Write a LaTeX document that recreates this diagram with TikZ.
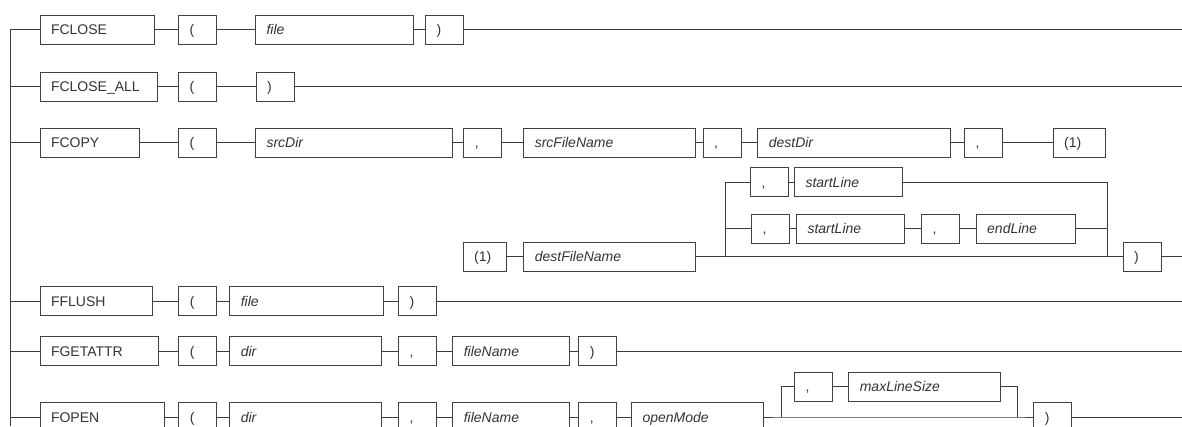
\documentclass[tikz,border=0pt]{standalone}
\usepackage{fontspec}
\setmainfont{Liberation Sans}
\usepackage{xcolor}
\usepackage{tikz}
\usetikzlibrary{positioning, calc}

\definecolor{linec}{HTML}{3C3C3C}
\definecolor{boxc}{HTML}{404040}
\definecolor{txtc}{HTML}{333333}

\begin{document}
\begin{tikzpicture}[
    x=1pt, y=-1pt,
    font=\fontsize{14}{16}\selectfont,
    line width=1pt,
    tok/.style={draw=boxc, anchor=west, minimum height=29pt,
        inner xsep=11pt, inner ysep=0pt, text width=#1, align=left,
        text height=10pt, text depth=0pt, text=txtc},
    arg/.style={tok=#1, font=\fontsize{14}{16}\selectfont\itshape},
    link/.style={draw=linec},
]
\useasboundingbox (0,0) rectangle (1182,426);

%% FCLOSE
\node[tok=92]  (fclose)  at (39.5,29.5) {FCLOSE};
\node[tok=16]  (fcloseL) at (178,29.5)  {(};
\node[arg=136] (fcloseF) at (255,29.5)  {file};
\node[tok=16]  (fcloseR) at (425,29.5)  {)};
\coordinate (fcloseE) at (1182,29.5);
\draw[link] (fclose) -- (fcloseL) -- (fcloseF) -- (fcloseR) -- (fcloseE);

%% FCLOSE_ALL
\node[tok=95] (fcall)  at (39.5,86.7)  {FCLOSE\_ALL};
\node[tok=16] (fcallL) at (178,86.7)   {(};
\node[tok=16] (fcallR) at (255.7,86.7) {)};
\coordinate (fcallE) at (1182,86.7);
\draw[link] (fcall) -- (fcallL) -- (fcallR) -- (fcallE);

%% FCOPY, first line
\node[tok=77]  (fcopy)   at (39.5,142.5)  {FCOPY};
\node[tok=16]  (cpyL)    at (178,142.5)   {(};
\node[arg=175] (cpySd)   at (255,142.5)   {srcDir};
\node[tok=16]  (cpyC1)   at (463.3,142.5) {,};
\node[arg=150] (cpySf)   at (523.3,142.5) {srcFileName};
\node[tok=16]  (cpyC2)   at (702.7,142.5) {,};
\node[arg=171] (cpyDd)   at (757.3,142.5) {destDir};
\node[tok=16]  (cpyC3)   at (964,142.5)   {,};
\node[tok=30]  (cpyRef)  at (1052.7,142.5) {(1)};
\draw[link] (fcopy) -- (cpyL) -- (cpySd) -- (cpyC1) -- (cpySf) -- (cpyC2)
    -- (cpyDd) -- (cpyC3) -- (cpyRef);

%% FCOPY, continued
\node[tok=21]  (cpyOne)  at (462.7,256.5) {(1)};
\node[arg=150] (cpyDf)   at (523.3,256.5) {destFileName};
\coordinate (cpySplit) at (725,256.5);
\coordinate (cpyJoin)  at (1107.7,256.5);
\node[tok=16]  (cpyAc)   at (750,182)     {,};
\node[arg=86]  (cpyAs)   at (794,182)     {startLine};
\node[tok=16]  (cpyBc)   at (751,228.8)   {,};
\node[arg=86]  (cpyBs)   at (796,228.8)   {startLine};
\node[tok=16]  (cpyBc2)  at (921,228.8)   {,};
\node[arg=77]  (cpyBe)   at (975.7,228.8) {endLine};
\node[tok=16]  (cpyR)    at (1122.7,256.5) {)};
\coordinate (cpyE) at (1182,256.5);
\draw[link] (cpyOne) -- (cpyDf) -- (cpySplit) -- (cpyJoin) -- (cpyR) -- (cpyE);
\draw[link] (cpySplit) |- (cpyAc);
\draw[link] (cpyAc) -- (cpyAs) -| (cpyJoin);
\draw[link] (cpySplit) |- (cpyBc);
\draw[link] (cpyBc) -- (cpyBs) -- (cpyBc2) -- (cpyBe) -| (cpyJoin);

%% FFLUSH
\node[tok=90]  (fflush)  at (39.5,301)  {FFLUSH};
\node[tok=16]  (flsL)    at (178.3,301) {(};
\node[arg=132] (flsF)    at (229.3,301) {file};
\node[tok=16]  (flsR)    at (398,301)   {)};
\coordinate (flsE) at (1182,301);
\draw[link] (fflush) -- (flsL) -- (flsF) -- (flsR) -- (flsE);

%% FGETATTR
\node[tok=96]  (fgetattr) at (39.5,351)  {FGETATTR};
\node[tok=16]  (gatL)     at (178.3,351) {(};
\node[arg=130] (gatD)     at (229.3,351) {dir};
\node[tok=16]  (gatC)     at (398,351)   {,};
\node[arg=95]  (gatF)     at (452.3,351) {fileName};
\node[tok=16]  (gatR)     at (578.3,351) {)};
\coordinate (gatE) at (1182,351);
\draw[link] (fgetattr) -- (gatL) -- (gatD) -- (gatC) -- (gatF) -- (gatR) -- (gatE);

%% FOPEN
\node[tok=102] (fopen) at (39.5,417)  {FOPEN};
\node[tok=16]  (opnL)  at (178.3,417) {(};
\node[arg=130] (opnD)  at (229.3,417) {dir};
\node[tok=16]  (opnC1) at (398,417)   {,};
\node[arg=95]  (opnF)  at (452.3,417) {fileName};
\node[tok=16]  (opnC2) at (578.3,417) {,};
\node[arg=110] (opnM)  at (631,417)   {openMode};
\coordinate (opnSplit) at (781,417);
\coordinate (opnJoin)  at (1017.7,417);
\node[tok=16]  (opnC3) at (794,386.5)   {,};
\node[arg=130] (opnX)  at (848.3,386.5) {maxLineSize};
\node[tok=16]  (opnR)  at (1033.3,417)  {)};
\coordinate (opnE) at (1182,417);
\draw[link] (fopen) -- (opnL) -- (opnD) -- (opnC1) -- (opnF) -- (opnC2) -- (opnM)
    -- (opnSplit) -- (opnJoin) -- (opnR) -- (opnE);
\draw[link] (opnSplit) |- (opnC3);
\draw[link] (opnC3) -- (opnX) -| (opnJoin);

%% left rail
\coordinate (railT) at (10,29.5);
\coordinate (railB) at (10,426);
\draw[link] (railT) -- (railB);
\foreach \n in {fclose, fcall, fcopy, fflush, fgetattr, fopen}
    \draw[link] (railT |- \n) -- (\n);
\end{tikzpicture}
\end{document}
